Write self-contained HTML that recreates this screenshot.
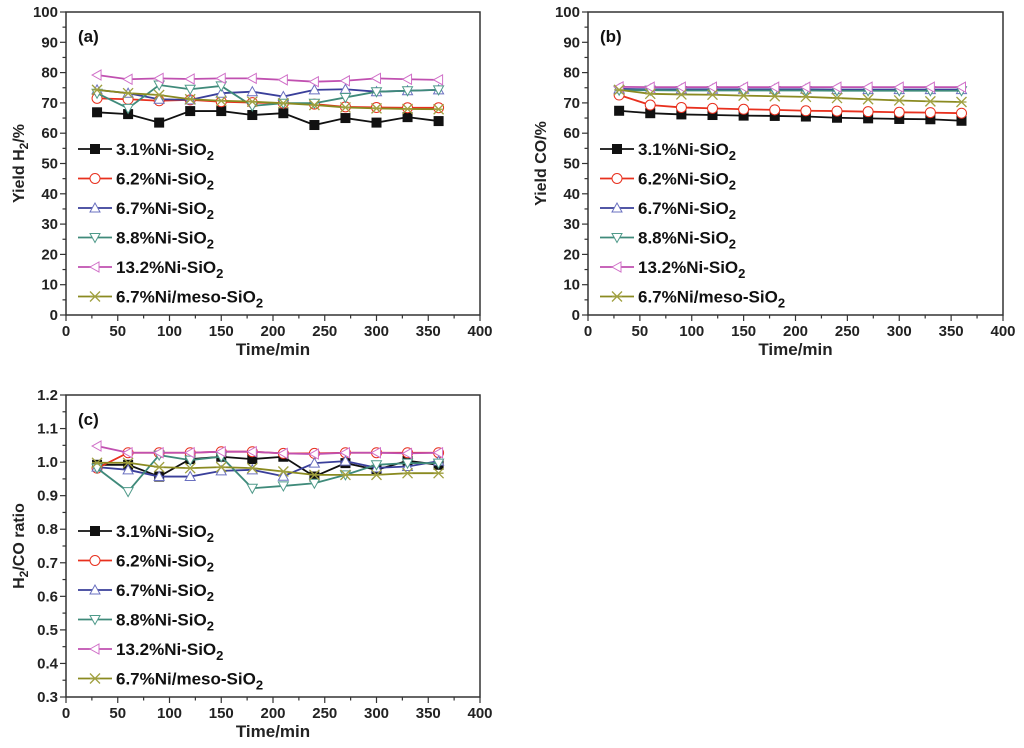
<!DOCTYPE html>
<html><head><meta charset="utf-8"><style>
body{margin:0;background:#fff;}
svg{display:block;font-family:"Liberation Sans",Arial,sans-serif;font-weight:bold;}
</style></head><body>
<svg id="fig" width="1024" height="748" viewBox="0 0 1024 748" xmlns="http://www.w3.org/2000/svg"></svg>
<script>
const times=[30,60,90,120,150,180,210,240,270,300,330,360];
const seriesNames=["3.1%Ni-SiO","6.2%Ni-SiO","6.7%Ni-SiO","8.8%Ni-SiO","13.2%Ni-SiO","6.7%Ni/meso-SiO"];
const xTicks=[0,50,100,150,200,250,300,350,400];
// (a) H2 yield
const a_s1=[66.9,66.3,63.5,67.3,67.3,66,66.6,62.7,65,63.5,65.3,64.0];
const a_s2=[71.5,71.2,70.7,71,70.4,70.1,69.9,69.6,68.7,68.5,68.4,68.4];
const a_s3=[74.3,73.2,71.2,71,73.2,73.7,72.1,74.3,74.5,73.7,74,74.3];
const a_s4=[73.2,68.2,75.9,74.5,75.6,69,69.9,69.9,71.8,73.7,74,74.3];
const a_s5=[79.2,77.8,78.1,77.9,78.1,78.1,77.6,77,77.3,78.1,77.8,77.6];
const a_s6=[74.3,73.2,72.6,71.2,70.7,70.4,69.9,69.3,68.5,68.2,68,67.9];
// (b) CO yield
const b_s1=[67.4,66.6,66.2,66,65.8,65.7,65.5,65.1,64.9,64.7,64.6,64.1];
const b_s2=[72.6,69.3,68.5,68.2,67.9,67.7,67.4,67.3,67.1,66.9,66.8,66.6];
const b_s3=[74.6,74.5,74.5,74.5,74.5,74.5,74.5,74.4,74.4,74.4,74.4,74.4];
const b_s4=[74.2,74.2,74.1,74.1,74.1,74.1,74.1,74.0,74.0,74.0,74.0,74.0];
const b_s5=[75.3,75.2,75.2,75.2,75.2,75.2,75.2,75.2,75.2,75.2,75.2,75.2];
const b_s6=[74.3,73,72.8,72.7,72.4,72.2,72,71.6,71.2,70.8,70.5,70.3];
// (c) H2/CO
const c_s1=[0.992,0.992,0.957,1.009,1.016,1.009,1.016,0.957,0.997,0.977,1.004,0.992];
const c_s2=[0.982,1.028,1.028,1.028,1.031,1.031,1.026,1.026,1.028,1.028,1.028,1.028];
const c_s3=[0.985,0.977,0.957,0.957,0.974,0.977,0.958,0.997,1.003,0.983,0.987,1.003];
const c_s4=[0.982,0.912,1.021,1.006,1.016,0.922,0.929,0.937,0.962,0.992,0.997,0.997];
const c_s5=[1.048,1.028,1.028,1.028,1.031,1.031,1.026,1.024,1.028,1.028,1.026,1.028];
const c_s6=[0.998,0.998,0.985,0.982,0.985,0.982,0.972,0.962,0.962,0.962,0.967,0.967];
const yTicksAB=[0,10,20,30,40,50,60,70,80,90,100];
const yTicksC=[0.3,0.4,0.5,0.6,0.7,0.8,0.9,1.0,1.1,1.2];

const colors=["#111","#e8301e","#3a3f9a","#3f8a7a","#c050b0","#8a8a20"];
const mcol=["#111","#e8301e","#6a70c0","#4f9a8a","#d070c8","#a0a040"];
const NS="http://www.w3.org/2000/svg";
const svg=document.getElementById('fig');
function el(tag,attrs,parent){const e=document.createElementNS(NS,tag);for(const k in attrs)e.setAttribute(k,attrs[k]);(parent||svg).appendChild(e);return e;}

function marker(g,i,x,y,s){
  const c=mcol[i];let m;
  if(i===0){m=el('rect',{x:x-s,y:y-s,width:2*s,height:2*s,fill:'#111'},g);}
  else if(i===1){m=el('circle',{cx:x,cy:y,r:s,fill:'#fff',stroke:c,'stroke-width':1},g);}
  else if(i===2){m=el('polygon',{points:`${x},${y-s} ${x-s},${y+s*0.8} ${x+s},${y+s*0.8}`,fill:'#fff',stroke:c,'stroke-width':1},g);}
  else if(i===3){m=el('polygon',{points:`${x},${y+s} ${x-s},${y-s*0.8} ${x+s},${y-s*0.8}`,fill:'#fff',stroke:c,'stroke-width':1},g);}
  else if(i===4){m=el('polygon',{points:`${x-s},${y} ${x+s*0.8},${y-s} ${x+s*0.8},${y+s}`,fill:'#fff',stroke:c,'stroke-width':1},g);}
  else {m=el('path',{d:`M${x-s},${y-s}L${x+s},${y+s}M${x+s},${y-s}L${x-s},${y+s}M${x-s},${y}L${x+s},${y}`,stroke:c,'stroke-width':1.3,fill:'none'},g);}
  
  
}

function chart(cfg){
  const {L,R,T,B,ymin,ymax,yTicks,ydec,minorY,series,label,ytitle,tag,legY,legX,name}=cfg;
  const g=el('g',{});
  
  
  const xs=v=>L+(v-0)/400*(R-L);
  const ys=v=>B-(v-ymin)/(ymax-ymin)*(B-T);
  const fr=el('rect',{x:L,y:T,width:R-L,height:B-T,fill:'none',stroke:'#333','stroke-width':1.5},g);
  
  
  for(let v=0;v<=400;v+=25){const x=xs(v);el('line',{x1:x,x2:x,y1:B,y2:B+(v%50===0?6:3.5),stroke:'#333','stroke-width':1.2},g);}
  xTicks.forEach(v=>{const t=el('text',{x:xs(v),y:B+21,'text-anchor':'middle','font-size':15,fill:'#222'},g);t.textContent=v;
    
    });
  for(let v=ymin;v<=ymax+1e-9;v+=minorY){const y=ys(v);const major=Math.abs(Math.round((v-ymin)/minorY))%2===0;el('line',{x1:L,x2:L-(major?6:3.5),y1:y,y2:y,stroke:'#333','stroke-width':1.2},g);}
  yTicks.forEach(v=>{const t=el('text',{x:L-8,y:ys(v)+5,'text-anchor':'end','font-size':15,fill:'#222'},g);t.textContent=v.toFixed(ydec);
    
    });
  const xt=el('text',{x:(L+R)/2,y:B+40,'text-anchor':'middle','font-size':17,fill:'#222'},g);xt.textContent='Time/min';
  
  
  const yt=el('text',{transform:`translate(${L-42},${(T+B)/2}) rotate(-90)`,'text-anchor':'middle','font-size':16,fill:'#222'},g);
  yt.innerHTML=ytitle;
  
  
  const pl=el('text',{x:L+12,y:T+30,'font-size':17,fill:'#111'},g);pl.textContent=label;
  
  
  series.forEach((d,i)=>{
    const pts=d.map((v,j)=>xs(times[j])+','+ys(v)).join(' ');
    const ln=el('polyline',{points:pts,fill:'none',stroke:colors[i],'stroke-width':1.8},g);
    
    
    d.forEach((v,j)=>marker(g,i,xs(times[j]),ys(v),5));
  });
  seriesNames.forEach((n,i)=>{
    const y=legY+i*29.5;
    const lg=el('g',{},g);
    
    
    el('line',{x1:legX,x2:legX+34,y1:y,y2:y,stroke:colors[i],'stroke-width':1.8},lg);
    marker(lg,i,legX+17,y,5);
    const t=el('text',{x:legX+38,y:y+6,'font-size':17,fill:'#111'},lg);
    t.innerHTML=n+'<tspan dy="5" font-size="13">2</tspan>';
  });
}

chart({name:'chart-a-h2-yield',L:66,R:480,T:12,B:315,ymin:0,ymax:100,yTicks:yTicksAB,ydec:0,minorY:5,
  series:[a_s1,a_s2,a_s3,a_s4,a_s5,a_s6],label:'(a)',ytitle:'Yield H<tspan dy="4" font-size="12">2</tspan><tspan dy="-4">/%</tspan>',legY:149,legX:78});
chart({name:'chart-b-co-yield',L:588,R:1003,T:12,B:315,ymin:0,ymax:100,yTicks:yTicksAB,ydec:0,minorY:5,
  series:[b_s1,b_s2,b_s3,b_s4,b_s5,b_s6],label:'(b)',ytitle:'Yield CO/%',legY:149,legX:600});
chart({name:'chart-c-h2-co-ratio',L:66,R:480,T:395,B:697,ymin:0.3,ymax:1.2,yTicks:yTicksC,ydec:1,minorY:0.05,
  series:[c_s1,c_s2,c_s3,c_s4,c_s5,c_s6],label:'(c)',ytitle:'H<tspan dy="4" font-size="12">2</tspan><tspan dy="-4">/CO ratio</tspan>',legY:531,legX:78});
</script>
</body></html>
